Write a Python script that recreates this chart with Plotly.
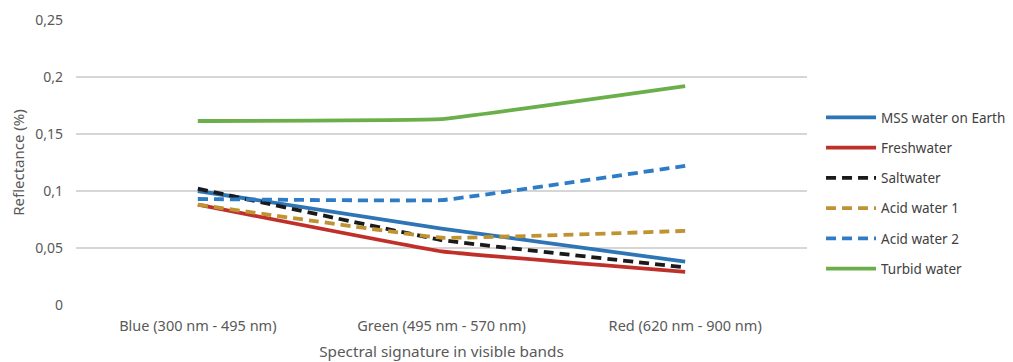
import plotly.graph_objects as go

categories = ["Blue (300 nm - 495 nm)", "Green (495 nm - 570 nm)", "Red (620 nm - 900 nm)"]
mss = [0.100, 0.067, 0.038]
fresh = [0.088, 0.047, 0.029]
salt = [0.102, 0.057, 0.033]
acid1 = [0.088, 0.059, 0.065]
acid2 = [0.093, 0.092, 0.122]
turbid = [0.1614, 0.163, 0.192]
series_names = ["MSS water on Earth", "Freshwater", "Saltwater", "Acid water 1", "Acid water 2", "Turbid water"]
ytick_vals = [0, 0.05, 0.1, 0.15, 0.2, 0.25]
ytick_text = ["0", "0,05", "0,1", "0,15", "0,2", "0,25"]

styles = [
    ("#2E75B6", "solid"),
    ("#C0302B", "solid"),
    ("#1A1A1A", "10px,6px"),
    ("#BF9232", "10px,6px"),
    ("#2E7CC6", "10px,6px"),
    ("#6AAF4A", "solid"),
]

fig = go.Figure()
for i, (name, vals) in enumerate(zip(series_names, [mss, fresh, salt, acid1, acid2, turbid])):
    c, d = styles[i]
    fig.add_trace(go.Scatter(
        x=categories, y=vals, name=name, mode="lines",
        line=dict(color=c, width=3.8, dash=d, shape="spline", smoothing=0.2),
        legendgroup=f"g{i}",
    ))

font = "Noto Sans, Open Sans, sans-serif"
fig.update_layout(
    width=1013, height=362,
    margin=dict(l=68, r=214, t=12, b=65),
    plot_bgcolor="white", paper_bgcolor="white",
    font=dict(family=font, color="#595959", size=14),
    showlegend=True,
    legend=dict(xref="container", yref="container", x=0.8026, y=0.74,
                xanchor="left", yanchor="top",
                font=dict(size=13.5, color="#404040"), tracegroupgap=9.7,
                itemwidth=50, bgcolor="rgba(0,0,0,0)"),
    xaxis=dict(showgrid=False, showline=False, zeroline=False, automargin=False,
               ticks="", tickfont=dict(size=14.5, color="#595959"),
               ticklabelstandoff=10,
               range=[-0.5, 2.5],
               title=dict(text="Spectral signature in visible bands", standoff=12,
                          font=dict(size=15.3, color="#595959"))),
    yaxis=dict(range=[0, 0.25], tickvals=ytick_vals, ticktext=ytick_text, automargin=False,
               showgrid=True, gridcolor="#D6D6D6", gridwidth=1.5, zeroline=False,
               showline=False, ticks="", tickfont=dict(size=14, color="#595959"),
               ticklabelstandoff=12,
               title=dict(text="Reflectance (%)", standoff=8,
                          font=dict(size=15, color="#595959"))),
)
fig.write_html("out.html")
